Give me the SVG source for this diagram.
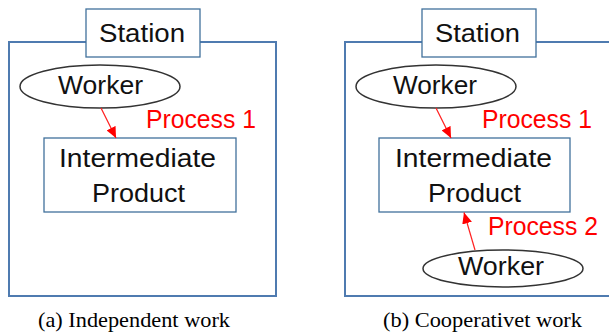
<svg xmlns="http://www.w3.org/2000/svg" width="609" height="335" viewBox="0 0 609 335">
  <style>
    .frame { fill: none; stroke: #4f7bb0; stroke-width: 2; }
    .box { fill: #ffffff; stroke: #41719c; stroke-width: 1.3; }
    .worker { fill: #ffffff; stroke: #333333; stroke-width: 1.5; }
    .lbl { font-family: "Liberation Sans", Arial, sans-serif; font-size: 26px; fill: #111111; text-anchor: middle; }
    .proc { font-family: "Liberation Sans", Arial, sans-serif; font-size: 26px; fill: #ff0000; text-anchor: middle; }
    .cap { font-family: "Liberation Serif", "Times New Roman", serif; font-size: 22px; fill: #000000; text-anchor: middle; }
    .conn { stroke: #ff2020; stroke-width: 1.2; fill: none; marker-end: url(#head); }
  </style>
  <defs>
    <marker id="head" markerUnits="userSpaceOnUse" markerWidth="12" markerHeight="10" refX="11" refY="5" orient="auto">
      <path d="M0,0 L11,5 L0,10 Z" fill="#ff0000"/>
    </marker>
  </defs>

  <rect width="609" height="335" fill="#ffffff"/>

  <!-- (a) independent work -->
  <g id="station-a">
    <rect class="frame" x="9" y="42" width="267" height="254"/>
    <rect class="box" x="86" y="9" width="114" height="48"/>
    <text class="lbl" x="142" y="42" textLength="86" lengthAdjust="spacingAndGlyphs">Station</text>
  </g>
  <g id="worker-a">
    <ellipse class="worker" cx="100" cy="86.5" rx="80" ry="21.5"/>
    <text class="lbl" x="100.5" y="94" textLength="85" lengthAdjust="spacingAndGlyphs">Worker</text>
  </g>
  <g id="product-a">
    <rect class="box" x="44" y="138" width="192" height="74"/>
    <text class="lbl" x="137.5" y="167" textLength="157" lengthAdjust="spacingAndGlyphs">Intermediate</text>
    <text class="lbl" x="138.5" y="202" textLength="93" lengthAdjust="spacingAndGlyphs">Product</text>
  </g>
  <text class="proc" x="201" y="128" textLength="110" lengthAdjust="spacingAndGlyphs">Process 1</text>
  <text class="cap" x="134" y="327" textLength="192" lengthAdjust="spacingAndGlyphs">(a) Independent work</text>

  <!-- (b) cooperative work -->
  <g id="station-b">
    <rect class="frame" x="345" y="42" width="275" height="254"/>
    <rect class="box" x="422" y="9" width="114" height="48"/>
    <text class="lbl" x="477.5" y="42" textLength="85" lengthAdjust="spacingAndGlyphs">Station</text>
  </g>
  <g id="worker-b1">
    <ellipse class="worker" cx="436" cy="86.5" rx="80" ry="21.5"/>
    <text class="lbl" x="435" y="94" textLength="84" lengthAdjust="spacingAndGlyphs">Worker</text>
  </g>
  <g id="product-b">
    <rect class="box" x="379" y="138" width="191" height="74"/>
    <text class="lbl" x="473.5" y="167" textLength="157" lengthAdjust="spacingAndGlyphs">Intermediate</text>
    <text class="lbl" x="474.5" y="202" textLength="93" lengthAdjust="spacingAndGlyphs">Product</text>
  </g>
  <g id="worker-b2">
    <ellipse class="worker" cx="503" cy="268.5" rx="80" ry="18.5"/>
    <text class="lbl" x="501" y="275" textLength="86" lengthAdjust="spacingAndGlyphs">Worker</text>
  </g>
  <text class="proc" x="537" y="128" textLength="110" lengthAdjust="spacingAndGlyphs">Process 1</text>
  <text class="proc" x="543" y="235" textLength="110" lengthAdjust="spacingAndGlyphs">Process 2</text>
  <text class="cap" x="482.5" y="327" textLength="199" lengthAdjust="spacingAndGlyphs">(b) Cooperativet work</text>

  <!-- connectors -->
  <g id="connectors">
    <line class="conn" x1="101" y1="108" x2="116" y2="138"/>
    <line class="conn" x1="436" y1="108" x2="451" y2="138"/>
    <line class="conn" x1="475" y1="250" x2="464" y2="212.5"/>
  </g>
</svg>
